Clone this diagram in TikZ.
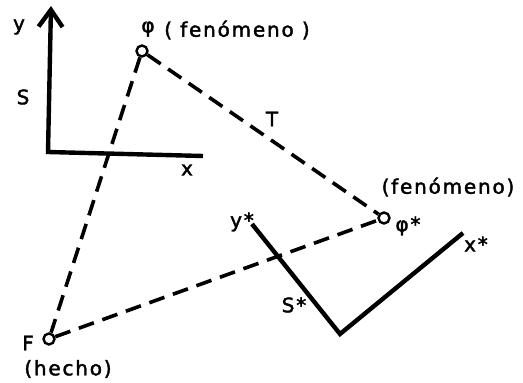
\documentclass[tikz,border=0pt]{standalone}
\usepackage{fontspec}
\setmainfont{DejaVu Sans}[LetterSpace=9, FakeBold=2]
\usetikzlibrary{arrows.meta}
\begin{document}
\begin{tikzpicture}[x=1pt,y=-1pt,
  axis/.style={line width=4.4pt, line join=miter, line cap=butt},
  dashln/.style={line width=3.6pt, dash pattern=on 16pt off 9pt},
  pt/.style={circle, draw, line width=2.4pt, fill=white, inner sep=0pt, minimum size=11pt},
  lbl/.style={inner sep=0pt, font=\fontsize{20}{24}\selectfont}]
\useasboundingbox (0,0) rectangle (523,383);
% first frame S
\coordinate (o) at (48,152);
\coordinate (ytop) at (51,6);
\coordinate (xend) at (203,156);
\draw[axis, -{Straight Barb[length=17pt, width=24pt, line width=4.4pt]}] (xend) -- (o) -- (ytop);
% second frame S*
\coordinate (ys) at (252,224);
\coordinate (os) at (340,334);
\coordinate (xs) at (463,233);
\draw[axis] (ys) -- (os) -- (xs);
% points
\node[pt] (phi) at (142,51) {};
\node[pt] (phis) at (384,218) {};
\node[pt] (F) at (49,339) {};
% dashed connectors
\draw[dashln] (phi) -- (F);
\draw[dashln] (phi) -- (phis);
\draw[dashln] (F) -- (phis);
% labels
\node[lbl] (ly) at (19,27) {y};
\node[lbl] (lS) at (23,97) {S};
\node[lbl] (lx) at (187,170) {x};
\node[lbl] (lphi) at (148,29) {φ};
\node[lbl] (lfen1) at (237,30) {( fenómeno )};
\node[lbl] (lT) at (272,119) {T};
\node[lbl] (lfen2) at (448,187) {(fenómeno)};
\node[lbl] (lphis) at (408,226) {φ*};
\node[lbl] (lys) at (242,222) {y*};
\node[lbl] (lxs) at (476,244) {x*};
\node[lbl] (lSs) at (294,305) {S*};
\node[lbl] (lF) at (28,343) {F};
\node[lbl] (lhecho) at (68,369) {(hecho)};
\end{tikzpicture}
\end{document}
